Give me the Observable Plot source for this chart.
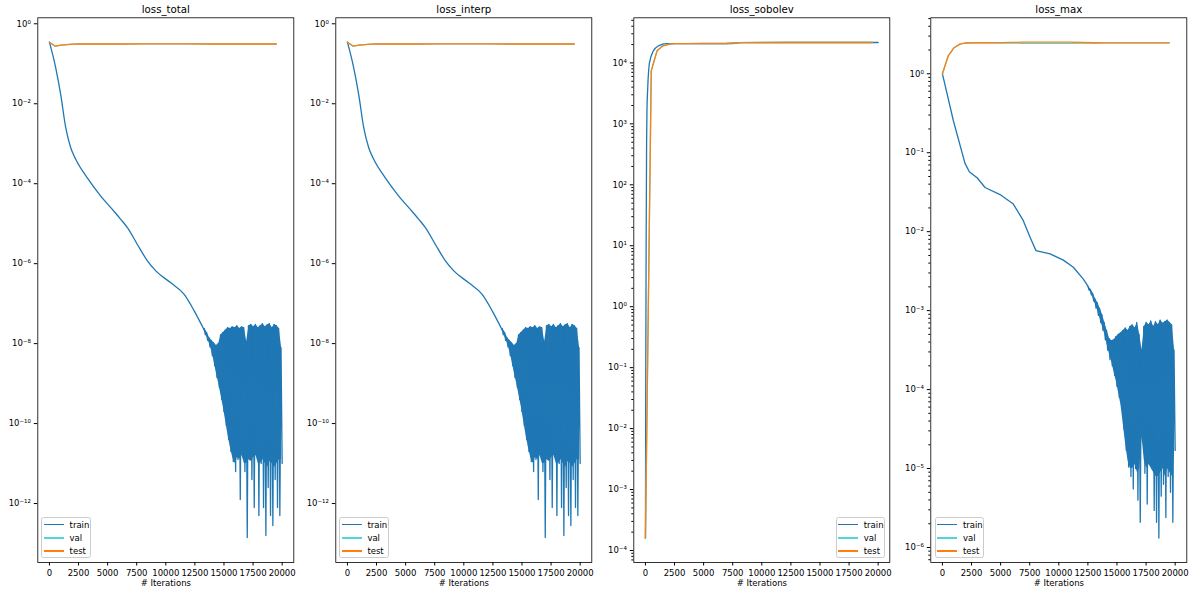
<!DOCTYPE html>
<html><head><meta charset="utf-8">
<script src="https://cdn.jsdelivr.net/npm/d3@7"></script>
<script src="https://cdn.jsdelivr.net/npm/@observablehq/plot@0.6"></script>
<style>
body{margin:0;background:#fff;font-family:"DejaVu Sans",sans-serif;}
#wrap{position:relative;width:1196px;height:594px;overflow:hidden;background:#fff;}
.legend{position:absolute;box-sizing:border-box;width:49.5px;height:41px;border:0.9px solid #cccccc;border-radius:2.5px;background:rgba(255,255,255,0.8);font-size:8.5px;color:#000;}
.legend .row{height:13.3px;display:flex;align-items:center;}
.legend .sw{display:inline-block;width:20px;height:1.6px;margin-left:1.7px;}
.legend .lb{margin-left:5.6px;line-height:10px;}
</style></head><body><div id="wrap"></div><script>
// ---------- shared labels ----------
const panelTitles = ["loss_total", "loss_interp", "loss_sobolev", "loss_max"];
const seriesNames = ["train", "val", "test"];
const seriesColors = ["#1f77b4", "#4fd5da", "#ff7f0e"];
const xTicks = [0, 2500, 5000, 7500, 10000, 12500, 15000, 17500, 20000];
const xAxisLabel = "# Iterations";

// All loss values below are log10(loss).

// ---------- loss_total ----------
const totalTrainX   = [0, 540, 970, 1400, 1830, 2260, 3240, 4410, 5270, 6130, 6700, 7560, 8420, 9140, 10430, 11580, 12440, 13300];
const totalTrainLog = [-0.46, -1.1, -1.77, -2.6, -3.1, -3.39, -3.85, -4.31, -4.6, -4.89, -5.1, -5.52, -5.93, -6.18, -6.48, -6.77, -7.18, -7.66];
// oscillating tail: upper value at each grid iteration, lower value 100 iterations later,
// plus the lower edge of the solid part of the band
const totalNoiseStart = 13300;
const totalNoiseHi = [-7.62,-7.72,-7.85,-7.92,-7.98,-8.05,-8.0,-7.78,-7.72,-7.66,-7.6,-7.62,-7.58,-7.6,-7.55,-7.62,-7.58,-7.6,-7.95,-7.55,-7.52,-7.58,-7.52,-7.6,-7.55,-7.5,-7.58,-7.53,-7.5,-7.6,-7.52,-7.55,-7.62,-8.1];
const totalNoiseLo = [-7.78,-7.92,-8.08,-8.3,-8.55,-8.85,-9.1,-9.4,-9.7,-10.05,-10.4,-10.7,-10.95,-11.2,-10.9,-11.9,-10.8,-11.2,-12.85,-10.9,-11.4,-12.1,-10.8,-12.3,-11.0,-12.1,-12.8,-11.6,-12.3,-12.55,-11.4,-12.1,-12.3,-11.0];
const totalBodyLo  = [-7.7,-7.85,-8.0,-8.2,-8.45,-8.75,-9.0,-9.3,-9.6,-9.95,-10.3,-10.6,-10.85,-11.0,-10.85,-10.9,-10.8,-11.0,-11.0,-10.9,-10.95,-10.85,-10.8,-11.0,-11.0,-10.9,-11.0,-11.1,-10.95,-11.0,-11.1,-11.0,-10.9,-10.9];
const totalEvalX   = [0, 500, 1000, 1500, 2000, 2500, 3000, 4000, 6000, 8000, 10000, 12000, 14000, 16000, 18000, 19500];
const totalValLog  = [-0.46, -0.56, -0.535, -0.52, -0.51, -0.505, -0.505, -0.505, -0.505, -0.5, -0.5, -0.5, -0.505, -0.505, -0.505, -0.505];
const totalTestLog = [-0.46, -0.56, -0.535, -0.52, -0.51, -0.505, -0.505, -0.505, -0.505, -0.5, -0.5, -0.5, -0.505, -0.505, -0.505, -0.505];
const totalMajor = [-12, -10, -8, -6, -4, -2, 0];

// ---------- loss_interp (reads identical to loss_total) ----------
const interpTrainX   = [0, 540, 970, 1400, 1830, 2260, 3240, 4410, 5270, 6130, 6700, 7560, 8420, 9140, 10430, 11580, 12440, 13300];
const interpTrainLog = [-0.46, -1.1, -1.77, -2.6, -3.1, -3.39, -3.85, -4.31, -4.6, -4.89, -5.1, -5.52, -5.93, -6.18, -6.48, -6.77, -7.18, -7.66];
const interpNoiseStart = 13300;
const interpNoiseHi = [-7.62,-7.72,-7.85,-7.92,-7.98,-8.05,-8.0,-7.78,-7.72,-7.66,-7.6,-7.62,-7.58,-7.6,-7.55,-7.62,-7.58,-7.6,-7.95,-7.55,-7.52,-7.58,-7.52,-7.6,-7.55,-7.5,-7.58,-7.53,-7.5,-7.6,-7.52,-7.55,-7.62,-8.1];
const interpNoiseLo = [-7.78,-7.92,-8.08,-8.3,-8.55,-8.85,-9.1,-9.4,-9.7,-10.05,-10.4,-10.7,-10.95,-11.2,-10.9,-11.9,-10.8,-11.2,-12.85,-10.9,-11.4,-12.1,-10.8,-12.3,-11.0,-12.1,-12.8,-11.6,-12.3,-12.55,-11.4,-12.1,-12.3,-11.0];
const interpBodyLo  = [-7.7,-7.85,-8.0,-8.2,-8.45,-8.75,-9.0,-9.3,-9.6,-9.95,-10.3,-10.6,-10.85,-11.0,-10.85,-10.9,-10.8,-11.0,-11.0,-10.9,-10.95,-10.85,-10.8,-11.0,-11.0,-10.9,-11.0,-11.1,-10.95,-11.0,-11.1,-11.0,-10.9,-10.9];
const interpEvalX   = [0, 500, 1000, 1500, 2000, 2500, 3000, 4000, 6000, 8000, 10000, 12000, 14000, 16000, 18000, 19500];
const interpValLog  = [-0.46, -0.56, -0.535, -0.52, -0.51, -0.505, -0.505, -0.505, -0.505, -0.5, -0.5, -0.5, -0.505, -0.505, -0.505, -0.505];
const interpTestLog = [-0.46, -0.56, -0.535, -0.52, -0.51, -0.505, -0.505, -0.505, -0.505, -0.5, -0.5, -0.5, -0.505, -0.505, -0.505, -0.505];

// ---------- loss_sobolev ----------
const sobTrainX   = [0, 30, 60, 100, 130, 200, 345, 690, 1120, 1840, 3000, 5000, 7500, 8200, 12000, 16000, 19999];
const sobTrainLog = [-3.8, -1.0, 1.0, 2.7, 3.2, 3.6, 4.0, 4.2, 4.28, 4.316, 4.316, 4.318, 4.318, 4.333, 4.335, 4.335, 4.335];
const sobEvalX   = [0, 500, 1000, 1500, 2000, 2500, 3000, 5000, 7000, 8000, 10000, 13000, 16000, 19500];
const sobValLog  = [-3.8, 3.87, 4.2, 4.28, 4.305, 4.315, 4.316, 4.316, 4.318, 4.333, 4.335, 4.335, 4.335, 4.335];
const sobTestLog = [-3.8, 3.87, 4.2, 4.28, 4.305, 4.315, 4.316, 4.316, 4.318, 4.333, 4.335, 4.335, 4.335, 4.335];
const sobMajor = [-4, -3, -2, -1, 0, 1, 2, 3, 4];

// ---------- loss_max ----------
const maxTrainX   = [0, 940, 1940, 2310, 3000, 3660, 4950, 6090, 6950, 7530, 8040, 9250, 10390, 11250, 12110, 12500];
const maxTrainLog = [0, -0.595, -1.135, -1.24, -1.32, -1.44, -1.53, -1.65, -1.86, -2.07, -2.24, -2.28, -2.36, -2.45, -2.6, -2.69];
const maxNoiseStart = 12500;
const maxNoiseHi = [-2.69,-2.73,-2.78,-2.85,-2.9,-2.97,-3.05,-3.15,-3.25,-3.35,-3.38,-3.37,-3.33,-3.3,-3.28,-3.25,-3.22,-3.25,-3.2,-3.18,-3.22,-3.15,-3.3,-3.5,-3.2,-3.15,-3.18,-3.13,-3.2,-3.14,-3.18,-3.12,-3.16,-3.14,-3.12,-3.15,-3.18,-3.5];
const maxNoiseLo = [-2.74,-2.8,-2.88,-2.97,-3.06,-3.15,-3.25,-3.37,-3.5,-3.62,-3.7,-3.82,-3.96,-4.1,-4.25,-4.5,-4.77,-4.98,-5.1,-5.26,-5.0,-5.4,-5.68,-4.6,-5.06,-5.45,-4.95,-5.0,-5.53,-5.68,-5.88,-5.35,-5.2,-5.62,-5.1,-5.3,-5.68,-4.77];
const maxBodyLo  = [-2.72,-2.77,-2.84,-2.92,-3.0,-3.1,-3.2,-3.3,-3.43,-3.55,-3.65,-3.78,-3.9,-4.05,-4.2,-4.45,-4.7,-4.9,-5.0,-5.0,-4.95,-5.05,-5.0,-4.6,-4.9,-5.0,-4.95,-5.0,-5.05,-5.1,-5.1,-5.05,-5.0,-5.1,-5.0,-5.05,-5.1,-4.77];
const maxEvalX   = [0, 500, 1000, 1500, 2000, 2500, 3000, 4000, 5000, 6000, 7000, 8000, 9000, 10000, 11000, 12000, 13000, 14000, 16000, 18000, 19500];
const maxValLog  = [0, 0.228, 0.33, 0.376, 0.39, 0.392, 0.392, 0.391, 0.39, 0.388, 0.386, 0.384, 0.384, 0.384, 0.385, 0.388, 0.39, 0.391, 0.392, 0.392, 0.392];
const maxTestLog = [0, 0.228, 0.33, 0.376, 0.39, 0.393, 0.393, 0.393, 0.395, 0.398, 0.4, 0.402, 0.402, 0.402, 0.4, 0.396, 0.393, 0.392, 0.392, 0.392, 0.392];
const maxMajor = [-6, -5, -4, -3, -2, -1, 0];

// ---------- helpers ----------
const supMap = {"-": "\u207B", "0": "\u2070", "1": "\u00B9", "2": "\u00B2", "3": "\u00B3", "4": "\u2074", "5": "\u2075", "6": "\u2076", "7": "\u2077", "8": "\u2078", "9": "\u2079"};
const supFmt = v => "10" + String(Math.round(Math.log10(v))).split("").map(c => supMap[c]).join("");
const p10 = v => Math.pow(10, v);

function minorTicks(lo, hi) {
  const t = [];
  for (let e = Math.floor(lo) - 1; e <= Math.ceil(hi); e++)
    for (let m = 2; m <= 9; m++) {
      const v = m * Math.pow(10, e);
      if (Math.log10(v) >= lo && Math.log10(v) <= hi) t.push(v);
    }
  return t;
}

const panels = [
  {title: panelTitles[0], trainX: totalTrainX, trainLog: totalTrainLog, noiseStart: totalNoiseStart, noiseHi: totalNoiseHi, noiseLo: totalNoiseLo, bodyLo: totalBodyLo,
   evalX: totalEvalX, valLog: totalValLog, testLog: totalTestLog, yLog: [-13.475, 0.15], major: totalMajor, minor: false, left: 0, legend: "left", curve: "monotone-x"},
  {title: panelTitles[1], trainX: interpTrainX, trainLog: interpTrainLog, noiseStart: interpNoiseStart, noiseHi: interpNoiseHi, noiseLo: interpNoiseLo, bodyLo: interpBodyLo,
   evalX: interpEvalX, valLog: interpValLog, testLog: interpTestLog, yLog: [-13.475, 0.15], major: totalMajor, minor: false, left: 297.8, legend: "left", curve: "monotone-x"},
  {title: panelTitles[2], trainX: sobTrainX, trainLog: sobTrainLog, evalX: sobEvalX, valLog: sobValLog, testLog: sobTestLog,
   yLog: [-4.197, 4.74], major: sobMajor, minor: true, left: 595.7, legend: "right", curve: "monotone-x"},
  {title: panelTitles[3], trainX: maxTrainX, trainLog: maxTrainLog, noiseStart: maxNoiseStart, noiseHi: maxNoiseHi, noiseLo: maxNoiseLo, bodyLo: maxBodyLo,
   evalX: maxEvalX, valLog: maxValLog, testLog: maxTestLog, yLog: [-6.19, 0.709], major: maxMajor, minor: true, left: 893.4, legend: "left", curve: "linear"}
];

const W = 298, H = 594, ML = 37.3, MR = 4.7, MT = 17.3, MB = 32;
const wrap = document.getElementById("wrap");

panels.forEach(c => {
  const smooth = c.trainX.map((x, i) => ({x, y: p10(c.trainLog[i])}));
  const zig = [], band = [];
  if (c.noiseHi) {
    zig.push(smooth[smooth.length - 1]);
    c.noiseHi.forEach((h, i) => {
      const x = c.noiseStart + i * 200;
      zig.push({x, y: p10(h)});
      zig.push({x: x + 100, y: p10(c.noiseLo[i])});
      band.push({x: x + 50, hi: p10(h), lo: p10(c.bodyLo[i])});
    });
  }
  const val = c.evalX.map((x, i) => ({x, y: p10(c.valLog[i])}));
  const test = c.evalX.map((x, i) => ({x, y: p10(c.testLog[i])}));

  const marks = [
    Plot.line(smooth, {x: "x", y: "y", stroke: seriesColors[0], strokeWidth: 1.3, curve: c.curve}),
    Plot.areaY(band, {x: "x", y1: "lo", y2: "hi", fill: seriesColors[0]}),
    Plot.line(zig, {x: "x", y: "y", stroke: seriesColors[0], strokeWidth: 1.3}),
    Plot.line(val, {x: "x", y: "y", stroke: seriesColors[1], strokeWidth: 1.3}),
    Plot.line(test, {x: "x", y: "y", stroke: seriesColors[2], strokeWidth: 1.3}),
    Plot.axisY({ticks: c.major.map(p10), tickFormat: supFmt, tickSize: 3.5, tickPadding: 3.5, label: null, fontSize: 8.5})
  ];
  if (c.minor) marks.push(Plot.axisY({ticks: minorTicks(c.yLog[0], c.yLog[1]), tickFormat: () => "", tickSize: 2, label: null}));
  marks.push(Plot.axisX({ticks: xTicks, tickFormat: d => String(d), tickSize: 3.5, tickPadding: 3.5, label: null, fontSize: 8.5}));
  marks.push(Plot.frame({stroke: "#000", strokeWidth: 0.8}));
  marks.push(Plot.text([c.title], {frameAnchor: "top", dy: -8, lineAnchor: "middle", fontSize: 10.2, fill: "#000"}));
  marks.push(Plot.text([xAxisLabel], {frameAnchor: "bottom", dy: 21, lineAnchor: "middle", fontSize: 8.5, fill: "#000"}));
  const svg = Plot.plot({
    width: W, height: H, marginLeft: ML, marginRight: MR, marginTop: MT, marginBottom: MB,
    style: {fontFamily: "DejaVu Sans", fontSize: "8.5px", color: "#000", background: "transparent", overflow: "visible"},
    x: {domain: [-1000, 21000]},
    y: {type: "log", domain: [p10(c.yLog[0]), p10(c.yLog[1])]},
    marks
  });
  svg.style.position = "absolute";
  svg.style.left = c.left + "px";
  svg.style.top = "0px";
  wrap.appendChild(svg);

  // legend
  const lg = document.createElement("div");
  lg.className = "legend";
  const frameL = c.left + ML, frameR = c.left + W - MR;
  lg.style.left = (c.legend === "left" ? frameL + 4 : frameR - 4 - 49.5) + "px";
  lg.style.top = "517px";
  seriesNames.forEach((s, i) => {
    const r = document.createElement("div"); r.className = "row";
    const sw = document.createElement("span"); sw.className = "sw"; sw.style.background = seriesColors[i];
    const lb = document.createElement("span"); lb.className = "lb"; lb.textContent = s;
    r.appendChild(sw); r.appendChild(lb); lg.appendChild(r);
  });
  wrap.appendChild(lg);
});
</script></body></html>
